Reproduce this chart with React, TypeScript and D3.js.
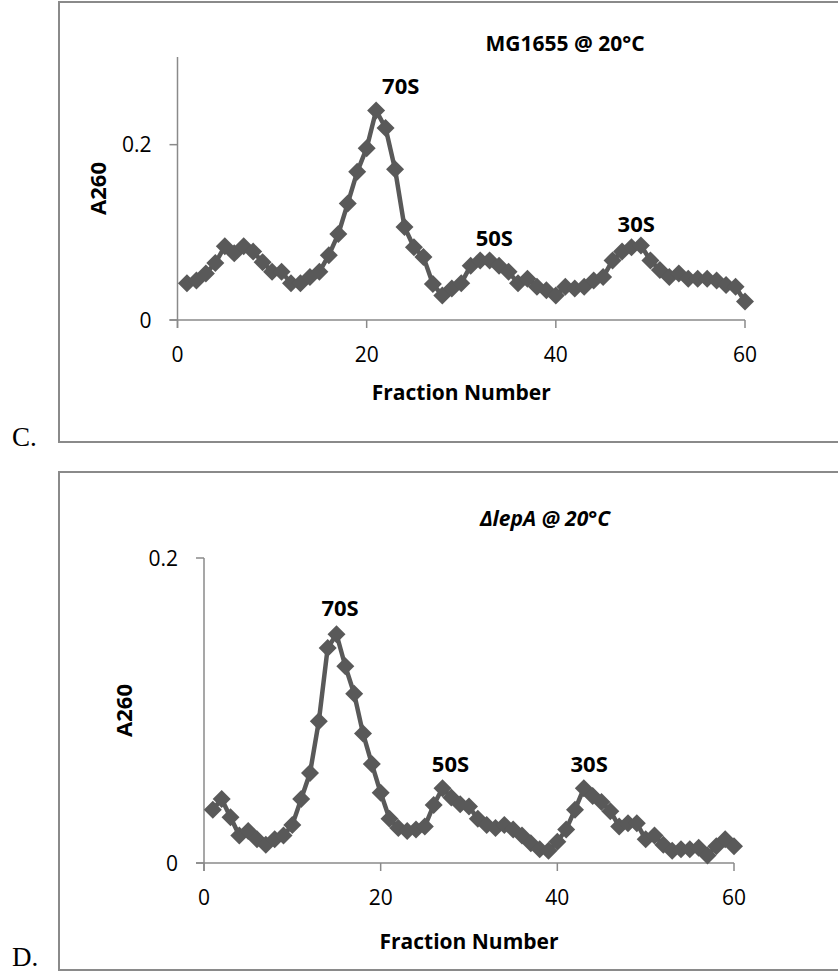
import React from 'react';
import * as d3 from 'd3';

// fractions 1..60
const fractions = d3.range(1, 61);

// panel C: MG1655 @ 20°C
const mgValues = [
  0.042, 0.045, 0.053, 0.065, 0.084, 0.076, 0.084, 0.078, 0.066, 0.055,
  0.055, 0.042, 0.042, 0.049, 0.055, 0.074, 0.098, 0.133, 0.169, 0.196,
  0.239, 0.219, 0.172, 0.106, 0.083, 0.072, 0.041, 0.028, 0.036, 0.042,
  0.062, 0.068, 0.068, 0.062, 0.055, 0.042, 0.047, 0.038, 0.034, 0.028,
  0.038, 0.036, 0.038, 0.045, 0.049, 0.068, 0.078, 0.083, 0.085, 0.068,
  0.057, 0.049, 0.053, 0.047, 0.047, 0.047, 0.045, 0.040, 0.038, 0.021,
];

// panel D: ΔlepA @ 20°C
const lepValues = [
  0.035, 0.042, 0.030, 0.018, 0.021, 0.0155, 0.012, 0.0155, 0.018, 0.025,
  0.042, 0.059, 0.093, 0.141, 0.150, 0.129, 0.111, 0.085, 0.065, 0.046,
  0.029, 0.023, 0.021, 0.022, 0.024, 0.038, 0.049, 0.043, 0.0385, 0.037,
  0.029, 0.025, 0.023, 0.025, 0.022, 0.018, 0.013, 0.009, 0.008, 0.014,
  0.022, 0.035, 0.049, 0.044, 0.040, 0.034, 0.024, 0.026, 0.026, 0.0155,
  0.018, 0.012, 0.008, 0.009, 0.009, 0.010, 0.005, 0.011, 0.0155, 0.011,
];

const xTicks = [0, 20, 40, 60];
const mgYTicks = [0, 0.2];
const lepYTicks = [0, 0.2];

const peakNames = ['70S', '50S', '30S'];
const mgPeakX = [23.6, 33.5, 48.5];
const mgPeakY = [0.267, 0.094, 0.11];
const lepPeakX = [15.4, 27.9, 43.6];
const lepPeakY = [0.167, 0.065, 0.065];

const AXIS = '#8a8a8a';
const INK = '#595959';
const FONT = '"Open Sans", "Liberation Sans", sans-serif';

type PanelProps = {
  values: number[];
  yMax: number;
  yTicks: number[];
  peakX: number[];
  peakY: number[];
  box: { y: number; h: number };
  plot: { left: number; right: number; top: number; bottom: number };
  xLabelDy: number;
  title: string;
  titleX: number;
  titleY: number;
  italic?: boolean;
  letter: string;
  letterY: number;
};

const Panel = (p: PanelProps) => {
  const { values, yMax, yTicks, peakX, peakY, box, plot, title, titleX, titleY, italic, letter } = p;
  const x = d3.scaleLinear().domain([0, 60]).range([plot.left, plot.right]);
  const y = d3.scaleLinear().domain([0, yMax]).range([plot.bottom, plot.top]);

  const line = d3.line<number>()
    .x((d, i) => x(fractions[i]))
    .y(d => y(d));

  const diamond = (cx: number, cy: number, r: number) =>
    `M${cx},${cy - r}L${cx + r},${cy}L${cx},${cy + r}L${cx - r},${cy}Z`;

  const tickFmt = (v: number) => (v === 0 ? '0' : String(v));

  return (
    <g>
      <rect x={59} y={box.y} width={800} height={box.h} fill="none" stroke={AXIS} strokeWidth={2} />
      <text x={12} y={p.letterY} fontFamily='"Liberation Serif", serif' fontSize={27} fill="#000">{letter}</text>

      {/* y axis */}
      <line x1={plot.left} x2={plot.left} y1={plot.top} y2={plot.bottom + 8} stroke={AXIS} strokeWidth={1.5} />
      {yTicks.map(t => (
        <g key={'y' + t}>
          <line x1={plot.left - 8} x2={plot.left} y1={y(t)} y2={y(t)} stroke={AXIS} strokeWidth={1.5} />
          <text x={plot.left - 26} y={y(t) + 7.5} textAnchor="end" fontFamily={FONT} fontSize={21} fill="#000">{tickFmt(t)}</text>
        </g>
      ))}

      {/* x axis */}
      <line x1={plot.left - 8} x2={plot.right} y1={plot.bottom} y2={plot.bottom} stroke={AXIS} strokeWidth={1.5} />
      {xTicks.map(t => (
        <g key={'x' + t}>
          <line x1={x(t)} x2={x(t)} y1={plot.bottom} y2={plot.bottom + 8} stroke={AXIS} strokeWidth={1.5} />
          <text x={x(t)} y={plot.bottom + 42} textAnchor="middle" fontFamily={FONT} fontSize={21} fill="#000">{t}</text>
        </g>
      ))}

      <text x={(plot.left + plot.right) / 2} y={plot.bottom + p.xLabelDy} textAnchor="middle" fontFamily={FONT} fontWeight="bold" fontSize={21} fill="#000">Fraction Number</text>
      <text transform={`translate(${plot.left - 72},${(plot.top + plot.bottom) / 2}) rotate(-90)`} textAnchor="middle" fontFamily={FONT} fontWeight="bold" fontSize={22} fill="#000">A260</text>

      <text x={titleX} y={titleY + 8} textAnchor="middle" fontFamily={FONT} fontWeight="bold" fontStyle={italic ? 'italic' : 'normal'} fontSize={21} fill="#000">{title}</text>

      <path d={line(values) || ''} fill="none" stroke={INK} strokeWidth={4.5} strokeLinejoin="round" />
      {values.map((v, i) => (
        <path key={i} d={diamond(x(fractions[i]), y(v), 9)} fill={INK} />
      ))}

      {peakNames.map((n, i) => (
        <text key={n} x={x(peakX[i])} y={y(peakY[i]) + 8} textAnchor="middle" fontFamily={FONT} fontWeight="bold" fontSize={22} fill="#000">{n}</text>
      ))}
    </g>
  );
};

export default function App() {
  return (
    <svg width={838} height={973} style={{ position: 'absolute', left: 0, top: 0, background: '#fff' }}>
      <rect x={0} y={0} width={838} height={973} fill="#fff" />
      <Panel
        values={mgValues}
        yMax={0.3}
        yTicks={mgYTicks}
        peakX={mgPeakX}
        peakY={mgPeakY}
        box={{ y: 2, h: 440 }}
        plot={{ left: 177.5, right: 745, top: 57, bottom: 320 }}
        xLabelDy={80}
        title="MG1655 @ 20°C"
        titleX={565}
        titleY={43}
        letter="C."
        letterY={446}
      />
      <Panel
        values={lepValues}
        yMax={0.2}
        yTicks={lepYTicks}
        peakX={lepPeakX}
        peakY={lepPeakY}
        box={{ y: 472, h: 498 }}
        plot={{ left: 204, right: 734, top: 558, bottom: 863 }}
        xLabelDy={86}
        title="ΔlepA @ 20°C"
        titleX={545}
        titleY={518}
        italic
        letter="D."
        letterY={966}
      />
    </svg>
  );
}
